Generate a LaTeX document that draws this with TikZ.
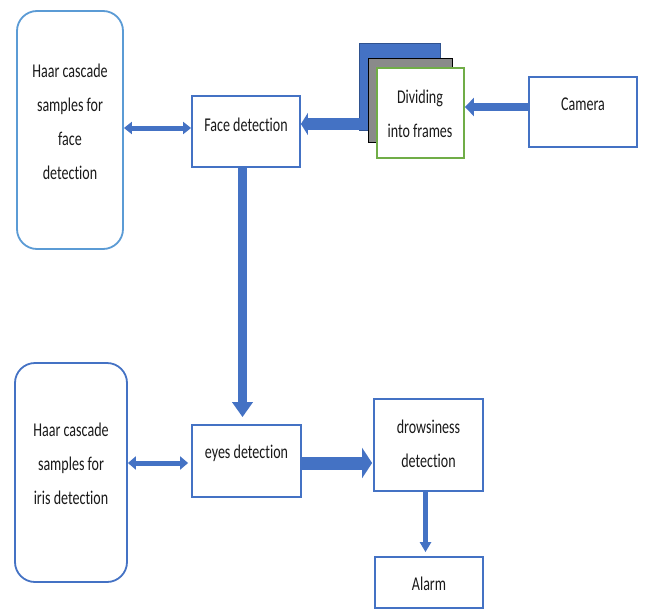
\documentclass[tikz,border=0pt]{standalone}
\usepackage{fontspec}
\setmainfont[FakeStretch=0.72,RawFeature={-liga}]{Carlito}
\usetikzlibrary{arrows.meta}
\definecolor{bbox}{HTML}{4472C4}
\definecolor{lbox}{HTML}{5B9BD5}
\definecolor{darr}{HTML}{2F528F}
\definecolor{gbox}{HTML}{70AD47}
\definecolor{gfill}{HTML}{8A8A8A}
\definecolor{txt}{HTML}{1A1A1A}
\tikzset{
  box/.style={draw=bbox, line width=1.8pt, fill=white, rectangle, inner sep=0pt},
  rbox/.style={draw=#1, line width=1.8pt, fill=white, rounded corners=20pt, inner sep=0pt},
  lbl/.style={text=txt, align=center, font=\fontsize{19.5}{34}\selectfont},
  barrow/.style={draw=bbox, color=bbox},
}
\begin{document}
\begin{tikzpicture}[x=1pt,y=-1pt]
\useasboundingbox (0,0) rectangle (645,610);
% Haar boxes
\node[rbox=lbox, minimum width=106, minimum height=238] (hf) at (70,130) {};
\node[lbl] (hft) at (70,122) {Haar cascade\\samples for\\face\\detection};
\node[rbox=bbox, minimum width=112, minimum height=219] (hi) at (71,472.5) {};
\node[lbl] (hit) at (71,464) {Haar cascade\\samples for\\iris detection};
% main boxes
\node[box, minimum width=108, minimum height=71, label={[lbl,yshift=7pt]center:Face detection}] (face) at (246,131.5) {};
\node[box, minimum width=108, minimum height=70, label={[lbl,yshift=8pt]center:Camera}] (cam) at (583,112) {};
\node[box, minimum width=109, minimum height=72, label={[lbl,yshift=8pt]center:eyes detection}] (eyes) at (246.5,461) {};
\node[box, minimum width=109, minimum height=92] (drow) at (428.5,445) {};
\node[lbl] (drowt) at (428.5,444) {drowsiness\\detection};
\node[box, minimum width=108, minimum height=51, label={[lbl,yshift=-1pt]center:Alarm}] (alarm) at (429,582.5) {};
% stacked frames
\node[draw=darr, fill=bbox, line width=1pt, minimum width=81, minimum height=86, inner sep=0pt] (bluebk) at (399.5,87) {};
\coordinate (divsrc) at (366,124);
\draw[barrow, line width=12pt, -{Triangle[length=7pt,width=22pt]}] (divsrc) -- (face.east |- divsrc);
\node[draw=black, fill=gfill, line width=1pt, minimum width=84, minimum height=83, inner sep=0pt] (graybk) at (410,100.5) {};
\node[draw=gbox, fill=white, line width=1.8pt, minimum width=87, minimum height=90, inner sep=0pt] (div) at (420.5,113) {};
\node[lbl] (divt) at (420,114) {Dividing\\into frames};
% arrows
\coordinate (camy) at (0,107);
\draw[barrow, line width=8pt, -{Triangle[length=9pt,width=18pt]}] (cam.west |- camy) -- (div.east |- camy);
\coordinate (hfy) at (0,128);
\draw[barrow, line width=5pt, {Triangle[length=8pt,width=12pt]}-{Triangle[length=8pt,width=12pt]}] (hf.east |- hfy) -- (face.west |- hfy);
\coordinate (vx) at (242.5,0);
\draw[barrow, line width=9pt, -{Triangle[length=15pt,width=20pt]}, shorten >=7pt] (vx |- face.south) -- (vx |- eyes.north);
\coordinate (ey) at (0,463);
\draw[barrow, line width=5pt, {Triangle[length=8pt,width=13pt]}-{Triangle[length=8pt,width=13pt]}, shorten >=3pt] (hi.east |- ey) -- (eyes.west |- ey);
\draw[barrow, line width=13pt, -{Triangle[length=10pt,width=30pt]}, shorten >=1pt] (eyes.east |- ey) -- (drow.west |- ey);
\coordinate (ax) at (425.5,0);
\draw[barrow, line width=5pt, -{Triangle[length=10pt,width=11pt]}, shorten >=4pt] (ax |- drow.south) -- (ax |- alarm.north);
\end{tikzpicture}
\end{document}
